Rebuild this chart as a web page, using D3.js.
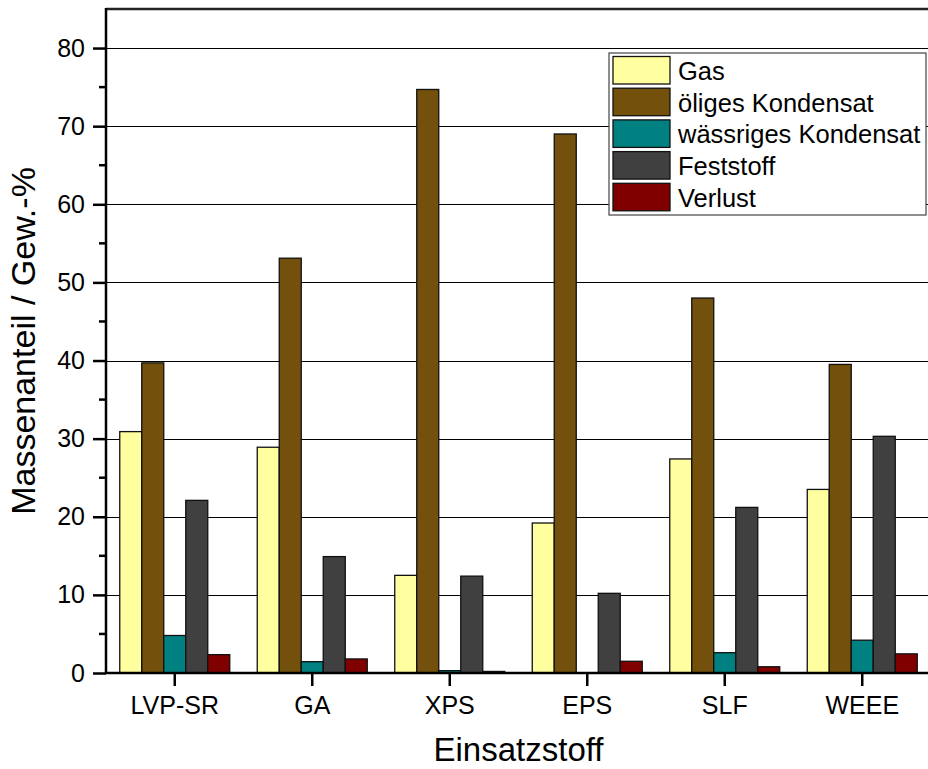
<!DOCTYPE html>
<html><head><meta charset="utf-8">
<script src="https://cdn.jsdelivr.net/npm/d3@7"></script>
<style>body{margin:0;background:#fff}svg{display:block;font-family:"Liberation Sans",Arial,sans-serif}</style>
</head><body><svg id="c" width="928" height="769"></svg>
<script>
const categories = ["LVP-SR","GA","XPS","EPS","SLF","WEEE"];
const seriesNames = ["Gas","öliges Kondensat","wässriges Kondensat","Feststoff","Verlust"];
const gas     = [30.9, 28.9, 12.5, 19.2, 27.4, 23.5];
const oil     = [39.7, 53.1, 74.7, 69.0, 48.0, 39.5];
const water   = [4.8, 1.45, 0.3, 0.0, 2.6, 4.2];
const solid   = [22.1, 14.9, 12.4, 10.2, 21.2, 30.3];
const loss    = [2.35, 1.8, 0.2, 1.5, 0.8, 2.45];
const yTicks  = [0,10,20,30,40,50,60,70,80];
const colors  = ["#FFFFA0","#73500B","#008080","#404040","#800000"];

const series = [gas, oil, water, solid, loss];
const svg = d3.select("#c");
const L = 106, R = 931, T = 9, B = 673;

const x = d3.scaleBand().domain(categories).range([L, R]).paddingInner(0.2).paddingOuter(0.1);
const xs = d3.scaleBand().domain(d3.range(seriesNames.length)).range([0, x.bandwidth()]);
const y = d3.scaleLinear().domain([0, 85]).range([B, T]);

// gridlines
svg.append("g").selectAll("line").data(yTicks.filter(d => d > 0)).join("line")
  .attr("x1", L).attr("x2", R).attr("y1", d => Math.round(y(d)) + 0.5).attr("y2", d => Math.round(y(d)) + 0.5)
  .attr("stroke", "#000").attr("stroke-width", 1);

// bars
const rows = [];
categories.forEach((c, i) => series.forEach((s, j) => rows.push({c, j, v: s[i]})));
svg.append("g").selectAll("rect").data(rows.filter(d => d.v > 0)).join("rect")
  .attr("x", d => x(d.c) + xs(d.j))
  .attr("y", d => y(d.v))
  .attr("width", xs.bandwidth())
  .attr("height", d => y(0) - y(d.v))
  .attr("fill", d => colors[d.j])
  .attr("stroke", "#111").attr("stroke-width", 1.3);

// top frame
svg.append("line").attr("x1", L).attr("x2", 928).attr("y1", T).attr("y2", T)
  .attr("stroke", "#222").attr("stroke-width", 2.5);

// y axis
const yAxis = d3.axisLeft(y).tickValues(yTicks).tickSize(13).tickPadding(8).tickFormat(d3.format("d"));
const gy = svg.append("g").attr("transform", `translate(${L},0)`).call(yAxis);
gy.select(".domain").remove();
gy.selectAll(".tick line").attr("stroke", "#000").attr("stroke-width", 2.5);
gy.selectAll(".tick text").attr("font-size", 25).attr("fill", "#000").attr("font-family", "Liberation Sans, Arial, sans-serif");
// minor ticks
svg.append("g").selectAll("line").data(d3.range(5, 85, 10)).join("line")
  .attr("x1", L - 7).attr("x2", L).attr("y1", d => y(d)).attr("y2", d => y(d))
  .attr("stroke", "#000").attr("stroke-width", 2.5);
svg.append("line").attr("x1", L).attr("x2", L).attr("y1", T - 1).attr("y2", B + 1)
  .attr("stroke", "#000").attr("stroke-width", 2.5);

// x axis
const xAxis = d3.axisBottom(x).tickSize(13).tickPadding(10);
const gx = svg.append("g").attr("transform", `translate(0,${B})`).call(xAxis);
gx.select(".domain").remove();
gx.selectAll(".tick line").attr("stroke", "#000").attr("stroke-width", 2.5);
gx.selectAll(".tick text").attr("font-size", 25).attr("fill", "#000").attr("font-family", "Liberation Sans, Arial, sans-serif");
svg.append("line").attr("x1", L - 1).attr("x2", R).attr("y1", B).attr("y2", B)
  .attr("stroke", "#000").attr("stroke-width", 2.5);

// axis titles
svg.append("text").attr("x", (L + R) / 2).attr("y", 761).attr("text-anchor", "middle")
  .attr("font-size", 33).attr("fill", "#000").text("Einsatzstoff");
svg.append("text").attr("transform", `translate(35,341) rotate(-90)`).attr("text-anchor", "middle")
  .attr("font-size", 34).attr("fill", "#000").text("Massenanteil / Gew.-%");

// legend
const lg = svg.append("g").attr("transform", "translate(609,53)");
lg.append("rect").attr("x", 0).attr("y", 0).attr("width", 317).attr("height", 162)
  .attr("fill", "#fff").attr("stroke", "#444").attr("stroke-width", 1.2);
const items = lg.selectAll("g").data(seriesNames).join("g")
  .attr("transform", (d, i) => `translate(4,${3.5 + i * 31.7})`);
items.append("rect").attr("width", 57).attr("height", 27.5)
  .attr("fill", (d, i) => colors[i]).attr("stroke", "#111").attr("stroke-width", 1.3);
items.append("text").attr("x", 65).attr("y", 23.5).attr("font-size", 25.5).attr("fill", "#000").text(d => d);
</script></body></html>
